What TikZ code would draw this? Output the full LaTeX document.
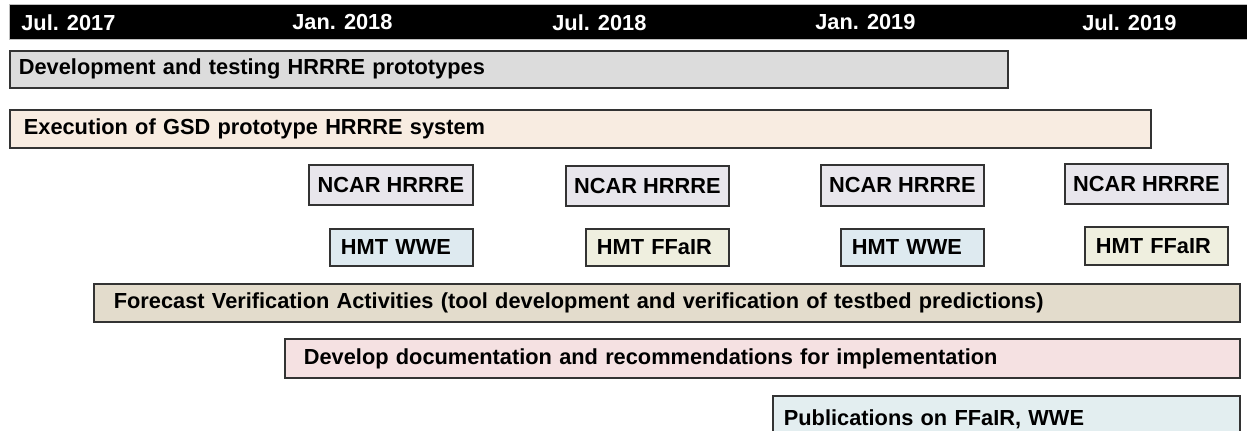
\documentclass[tikz,border=0pt]{standalone}
\usepackage{fontspec}
\setmainfont{Liberation Sans}

\definecolor{edge}{HTML}{333333}
\definecolor{devgray}{HTML}{DCDCDC}
\definecolor{execpeach}{HTML}{F8ECE1}
\definecolor{ncarbox}{HTML}{E8E6EC}
\definecolor{wwebox}{HTML}{DEEAF0}
\definecolor{ffairbox}{HTML}{EFEFDF}
\definecolor{verifbox}{HTML}{E3DCCC}
\definecolor{docbox}{HTML}{F5E1E2}
\definecolor{pubbox}{HTML}{E3EEF0}

\tikzset{
  box/.style={draw=edge, line width=1pt, anchor=north west, inner ysep=0pt,
    font=\bfseries\fontsize{12.4}{14}\selectfont},
  bar/.style={box, align=left},
  month/.style={anchor=west, inner sep=0pt, text=white,
    font=\bfseries\fontsize{12.4}{14}\selectfont},
}

\begin{document}
\begin{tikzpicture}[x=0.02cm, y=-0.02cm]
	\useasboundingbox (0,0) rectangle (1247,431);
	\clip (0,0) rectangle (1247,431);

	% time axis
	\node [draw=gray!50, fill=black, anchor=north west, minimum width=25cm, minimum height=0.7cm, inner sep=0pt] (axis) at (9,4) {};
	\node [month] (jul17) at (21,22.5) {Jul. 2017};
	\node [month] (jan18) at (292,22.5) {Jan. 2018};
	\node [month] (jul18) at (552,22.5) {Jul. 2018};
	\node [month] (jan19) at (815,22.5) {Jan. 2019};
	\node [month] (jul19) at (1082,22.5) {Jul. 2019};

	% long running activities
	\node [bar, fill=devgray, minimum height=0.74cm, text width=19.6cm, inner xsep=0.18cm] (dev) at (9,50) {Development and testing HRRRE prototypes};
	\node [bar, fill=execpeach, minimum height=0.76cm, text width=22.26cm, inner xsep=0.28cm] (exec) at (9,109) {Execution of GSD prototype HRRRE system};

	% NCAR ensemble runs
	\node [box, fill=ncarbox, minimum width=3.28cm, minimum height=0.8cm] (ncar1) at (308,164) {NCAR HRRRE};
	\node [box, fill=ncarbox, minimum width=3.26cm, minimum height=0.8cm] (ncar2) at (565,165) {NCAR HRRRE};
	\node [box, fill=ncarbox, minimum width=3.26cm, minimum height=0.82cm] (ncar3) at (820,164) {NCAR HRRRE};
	\node [box, fill=ncarbox, minimum width=3.26cm, minimum height=0.8cm] (ncar4) at (1064,163) {NCAR HRRRE};

	% HMT experiments
	\node [bar, fill=wwebox, minimum height=0.74cm, text width=2.42cm, inner xsep=0.22cm] (hmt1) at (329,228) {HMT WWE};
	\node [bar, fill=ffairbox, minimum height=0.74cm, text width=2.42cm, inner xsep=0.22cm] (hmt2) at (585,228) {HMT FFaIR};
	\node [bar, fill=wwebox, minimum height=0.74cm, text width=2.42cm, inner xsep=0.22cm] (hmt3) at (840,228) {HMT WWE};
	\node [bar, fill=ffairbox, minimum height=0.76cm, text width=2.42cm, inner xsep=0.22cm] (hmt4) at (1084,226) {HMT FFaIR};

	% verification and reporting
	\node [bar, fill=verifbox, minimum height=0.76cm, text width=22.12cm, inner xsep=0.4cm] (verif) at (93,283) {Forecast Verification Activities (tool development and verification of testbed predictions)};
	\node [bar, fill=docbox, minimum height=0.78cm, text width=18.34cm, inner xsep=0.38cm] (docs) at (284,338) {Develop documentation and recommendations for implementation};
	\node [bar, fill=pubbox, minimum height=0.94cm, text width=8.9cm, inner xsep=0.22cm] (pubs) at (772,395) {Publications on FFaIR, WWE};
\end{tikzpicture}
\end{document}
